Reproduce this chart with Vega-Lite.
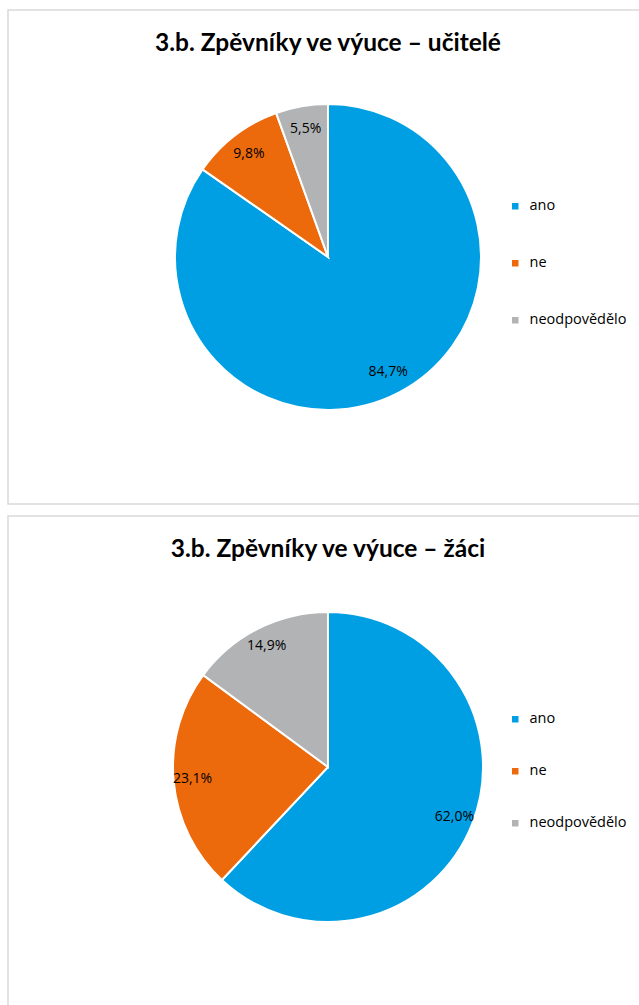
{
  "$schema": "https://vega.github.io/schema/vega-lite/v6.json",
  "padding": {"left": 7, "top": 9, "right": 0, "bottom": 0},
  "spacing": 10,
  "background": "white",
  "config": {
    "locale": {"number": {"decimal": ",", "thousands": " ", "grouping": [3], "currency": ["", " Kč"]}},
    "view": {"stroke": "#d9d9d9", "strokeWidth": 1.5},
    "font": "Open Sans",
    "title": {"font": "Lato", "fontSize": 24.5, "fontWeight": "bold", "color": "#000000", "anchor": "middle", "offset": -46}
  },
  "resolve": {"scale": {"color": "independent", "theta": "independent"}, "legend": {"color": "independent"}},
  "datasets": {
    "ucitele": [
      {"odpoved": "ano", "podil": 0.847, "poradi": 1},
      {"odpoved": "ne", "podil": 0.098, "poradi": 2},
      {"odpoved": "neodpovědělo", "podil": 0.055, "poradi": 3}
    ],
    "zaci": [
      {"odpoved": "ano", "podil": 0.620, "poradi": 1},
      {"odpoved": "ne", "podil": 0.231, "poradi": 2},
      {"odpoved": "neodpovědělo", "podil": 0.149, "poradi": 3}
    ]
  },
  "vconcat": [
    {
      "title": "3.b. Zpěvníky ve výuce – učitelé",
      "width": 640,
      "height": 494,
      "view": {"stroke": "#d9d9d9", "strokeWidth": 1.5},
      "data": {"name": "ucitele"},
      "encoding": {
        "theta": {"field": "podil", "type": "quantitative", "stack": true},
        "order": {"field": "poradi", "type": "ordinal"},
        "color": {
          "field": "odpoved", "type": "nominal",
          "scale": {"domain": ["ano", "ne", "neodpovědělo"], "range": ["#009FE3", "#EC6A0C", "#B2B3B5"]},
          "legend": {"title": null, "orient": "none", "legendX": 500, "legendY": 189, "padding": 0, "symbolType": "square", "symbolSize": 42, "symbolStrokeWidth": 0, "labelFont": "Open Sans", "labelFontSize": 14.5, "labelColor": "#000000", "labelOffset": 7, "rowPadding": 42, "direction": "vertical"}
        }
      },
      "layer": [
        {"mark": {"type": "arc", "outerRadius": 153, "stroke": "white", "strokeWidth": 2}},
        {"mark": {"type": "text", "radius": 130, "fontSize": 14, "font": "Open Sans", "color": "#000000"},
         "encoding": {"text": {"field": "podil", "type": "quantitative", "format": ".1%"}, "color": {"value": "#000000"}}}
      ]
    },
    {
      "title": "3.b. Zpěvníky ve výuce – žáci",
      "width": 640,
      "height": 502,
      "view": {"stroke": "#d9d9d9", "strokeWidth": 1.5},
      "data": {"name": "zaci"},
      "encoding": {
        "theta": {"field": "podil", "type": "quantitative", "stack": true},
        "order": {"field": "poradi", "type": "ordinal"},
        "color": {
          "field": "odpoved", "type": "nominal",
          "scale": {"domain": ["ano", "ne", "neodpovědělo"], "range": ["#009FE3", "#EC6A0C", "#B2B3B5"]},
          "legend": {"title": null, "orient": "none", "legendX": 500, "legendY": 196, "padding": 0, "symbolType": "square", "symbolSize": 42, "symbolStrokeWidth": 0, "labelFont": "Open Sans", "labelFontSize": 14.5, "labelColor": "#000000", "labelOffset": 7, "rowPadding": 37, "direction": "vertical"}
        }
      },
      "layer": [
        {"mark": {"type": "arc", "outerRadius": 155, "stroke": "white", "strokeWidth": 2}},
        {"mark": {"type": "text", "radius": 136, "fontSize": 14, "font": "Open Sans", "color": "#000000"},
         "encoding": {"text": {"field": "podil", "type": "quantitative", "format": ".1%"}, "color": {"value": "#000000"}}}
      ]
    }
  ]
}
